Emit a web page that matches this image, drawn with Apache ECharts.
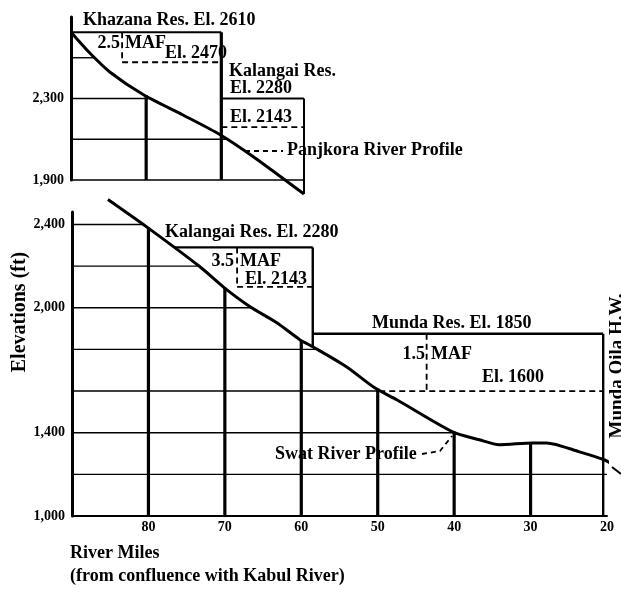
<!DOCTYPE html>
<html>
<head>
<meta charset="utf-8" />
<title>Swat / Panjkora River Profiles</title>
<script src="https://cdn.jsdelivr.net/npm/echarts@6/dist/echarts.min.js"></script>
<style>
    html, body { margin: 0; padding: 0; background: #fff; }
    #chart { width: 621px; height: 593px; }
</style>
</head>
<body>
<div id="chart"></div>
<script type="text/javascript">
    // Panjkora river profile (upper panel)
    var panjMiles = [90, 87.5, 84.8, 80.3, 75.1, 70.1, 65.7, 59];
    var panjElev = [2625, 2523, 2429, 2317, 2219, 2121, 2013, 1831];
    var panjDropMiles = [80, 70];
    var panjDropElev = [2317, 2625];
    var panjGridElev = [2100, 2300, 2500, 2700];
    // reservoir lines [mile1, elev1, mile2, elev2]
    var panjSolid = [[90, 2625, 70, 2625], [70, 2300, 59, 2300], [59, 2300, 59, 1831]];
    var panjDashed = [[83.2, 2625, 83.2, 2478], [83.2, 2478, 70, 2478], [70, 2160, 59, 2160]];

    // Swat river profile (lower panel)
    var swatMiles = [85.3, 80.1, 73.3, 70.1, 66.7, 63.2, 60.2, 58.5, 54.1, 50.4, 47.5, 40.2, 36.7, 34.1, 29.7, 27.9, 23.6, 20.3, 18.8];
    var swatElev = [2520, 2385, 2198, 2097, 2005, 1928, 1847, 1813, 1717, 1616, 1558, 1404, 1366, 1342, 1351, 1351, 1308, 1269, 1236];
    var swatDropMiles = [80, 70, 60, 50, 40, 30];
    var swatDropElev = [2385, 2097, 1845, 1612, 1405, 1352];
    var swatGridElev = [1200, 1400, 1600, 1800, 2000, 2200, 2400];
    var swatSolid = [[76.6, 2290, 58.5, 2290], [58.5, 2290, 58.5, 1813], [58.5, 1875, 20.5, 1875], [20.5, 1875, 20.5, 1000]];
    var swatDashed = [[68.4, 2290, 68.4, 2100], [68.4, 2100, 58.5, 2100], [43.6, 1875, 43.6, 1600], [49.8, 1600, 20.5, 1600]];

    // tick labels
    var xTicks = [80, 70, 60, 50, 40, 30, 20];
    var panjYTicks = [1900, 2300];
    var panjYText = ['1,900', '2,300'];
    var swatYTicks = [1000, 1400, 2000, 2400];
    var swatYText = ['1,000', '1,400', '2,000', '2,400'];

    var SERIF = '"Liberation Serif", "DejaVu Serif", serif';

    function zip(a, b) {
        return a.map(function (v, i) { return [v, b[i]]; });
    }

    // mile where the profile first drops to elevation v
    function crossMile(miles, elev, v, fallback) {
        if (elev[0] < v) return null;
        for (var i = 0; i < miles.length - 1; i++) {
            if ((elev[i] - v) * (elev[i + 1] - v) <= 0) {
                var t = (elev[i] - v) / (elev[i] - elev[i + 1]);
                return miles[i] + t * (miles[i + 1] - miles[i]);
            }
        }
        return fallback;
    }

    function lineSeg(p1, p2, w, dash) {
        return {
            type: 'line',
            shape: { x1: p1[0], y1: p1[1], x2: p2[0], y2: p2[1] },
            style: { stroke: '#000', lineWidth: w, lineDash: dash || null }
        };
    }

    function segSeries(idx, segs, w, dash) {
        return {
            type: 'custom', xAxisIndex: idx, yAxisIndex: idx, z: 5, silent: true,
            data: segs,
            encode: { x: [0, 2], y: [1, 3] },
            renderItem: function (params, api) {
                return lineSeg(api.coord([api.value(0), api.value(1)]),
                    api.coord([api.value(2), api.value(3)]), w, dash);
            }
        };
    }

    function dropSeries(idx, miles, elev, base) {
        return {
            type: 'custom', xAxisIndex: idx, yAxisIndex: idx, z: 4, silent: true,
            data: zip(miles, elev),
            renderItem: function (params, api) {
                return lineSeg(api.coord([api.value(0), base]),
                    api.coord([api.value(0), api.value(1)]), 3.2);
            }
        };
    }

    function gridSeries(idx, gridElev, miles, elev, left, right) {
        var rows = [];
        gridElev.forEach(function (v) {
            var m = crossMile(miles, elev, v, right);
            if (m !== null) rows.push([left, v, m]);
        });
        return {
            type: 'custom', xAxisIndex: idx, yAxisIndex: idx, z: 3, silent: true,
            data: rows,
            renderItem: function (params, api) {
                return lineSeg(api.coord([api.value(0), api.value(1)]),
                    api.coord([api.value(2), api.value(1)]), 1.4);
            }
        };
    }

    function riverSeries(idx, miles, elev) {
        return {
            type: 'line', xAxisIndex: idx, yAxisIndex: idx, z: 6, silent: true,
            data: zip(miles, elev), symbol: 'none', smooth: 0.25, clip: false,
            lineStyle: { color: '#000', width: 3 }
        };
    }

    function yLabel(ticks, text) {
        return function (v) {
            var i = ticks.indexOf(v);
            return i >= 0 ? text[i] : '';
        };
    }

    function txt(x, y, s, opt) {
        opt = opt || {};
        return {
            type: 'text', x: x, y: y, z: 100, rotation: opt.rotation || 0,
            style: {
                text: s, fill: '#000', font: 'bold ' + (opt.size || 18) + 'px ' + SERIF,
                align: opt.align || 'left', verticalAlign: 'middle'
            }
        };
    }

    var chart = echarts.init(document.getElementById('chart'));
    var option = {
        animation: false,
        backgroundColor: '#fff',
        grid: [
            { left: 71, top: 17, width: 233, height: 163 },
            { left: 72, top: 212, width: 535, height: 304 }
        ],
        xAxis: [
            {
                gridIndex: 0, type: 'value', min: 59, max: 90, inverse: true,
                axisLine: { lineStyle: { color: '#000', width: 1.5 } },
                axisTick: { show: false }, axisLabel: { show: false }, splitLine: { show: false }
            },
            {
                gridIndex: 1, type: 'value', min: 20, max: 90, interval: 10, inverse: true,
                axisLine: { lineStyle: { color: '#000', width: 2 } },
                axisTick: { show: false }, splitLine: { show: false },
                axisLabel: {
                    color: '#000', fontFamily: SERIF, fontWeight: 'bold', fontSize: 14, margin: 4,
                    showMinLabel: true, showMaxLabel: true,
                    formatter: function (v) { return xTicks.indexOf(v) >= 0 ? String(v) : ''; }
                }
            }
        ],
        yAxis: [
            {
                gridIndex: 0, type: 'value', min: 1900, max: 2700, interval: 200,
                axisLine: { show: true, lineStyle: { color: '#000', width: 3 } },
                axisTick: { show: false }, splitLine: { show: false },
                axisLabel: { color: '#000', fontFamily: SERIF, fontWeight: 'bold', fontSize: 14, margin: 7, formatter: yLabel(panjYTicks, panjYText) }
            },
            {
                gridIndex: 1, type: 'value', min: 1000, max: 2460, interval: 200,
                axisLine: { show: true, lineStyle: { color: '#000', width: 3 } },
                axisTick: { show: false }, splitLine: { show: false },
                axisLabel: { color: '#000', fontFamily: SERIF, fontWeight: 'bold', fontSize: 14, margin: 7, formatter: yLabel(swatYTicks, swatYText) }
            }
        ],
        series: [
            gridSeries(0, panjGridElev, panjMiles, panjElev, 90, 59),
            dropSeries(0, panjDropMiles, panjDropElev, 1900),
            segSeries(0, panjSolid, 2),
            segSeries(0, panjDashed, 1.8, [6, 4]),
            riverSeries(0, panjMiles, panjElev),
            gridSeries(1, swatGridElev, swatMiles, swatElev, 90, 20),
            dropSeries(1, swatDropMiles, swatDropElev, 1000),
            segSeries(1, swatSolid, 2.4),
            segSeries(1, swatDashed, 1.8, [6, 4]),
            riverSeries(1, swatMiles, swatElev)
        ],
        graphic: [
            // upper panel notes
            txt(83, 20, 'Khazana Res. El. 2610'),
            txt(120, 43, '2.5', { align: 'right' }),
            txt(125, 43, 'MAF'),
            txt(165, 53, 'El. 2470'),
            txt(229, 71, 'Kalangai Res.'),
            txt(230, 88, 'El. 2280'),
            txt(230, 117, 'El. 2143'),
            txt(287, 150, 'Panjkora River Profile'),
            { type: 'line', z: 100, shape: { x1: 245, y1: 151, x2: 283, y2: 151 }, style: { stroke: '#000', lineWidth: 1.8, lineDash: [5, 4] } },
            // lower panel notes
            txt(165, 232, 'Kalangai Res. El. 2280'),
            txt(234, 261, '3.5', { align: 'right' }),
            txt(240, 261, 'MAF'),
            txt(245, 279, 'El. 2143'),
            txt(372, 323, 'Munda Res. El. 1850'),
            txt(425, 354, '1.5', { align: 'right' }),
            txt(431, 354, 'MAF'),
            txt(482, 377, 'El. 1600'),
            txt(275, 454, 'Swat River Profile'),
            { type: 'polyline', z: 100, shape: { points: [[422, 454], [440, 451], [452, 436]] }, style: { stroke: '#000', fill: null, lineWidth: 1.8, lineDash: [5, 4] } },
            txt(617, 366, 'Munda Qila H.W.', { rotation: Math.PI / 2, align: 'center', size: 19 }),
            { type: 'polyline', z: 100, shape: { points: [[621, 474], [612, 467]] }, style: { stroke: '#000', fill: null, lineWidth: 2 } },
            // axis titles
            txt(20, 312, 'Elevations (ft)', { rotation: Math.PI / 2, align: 'center', size: 20 }),
            txt(70, 553, 'River Miles'),
            txt(70, 576, '(from confluence with Kabul River)')
        ]
    };
    chart.setOption(option);
</script>
</body>
</html>
